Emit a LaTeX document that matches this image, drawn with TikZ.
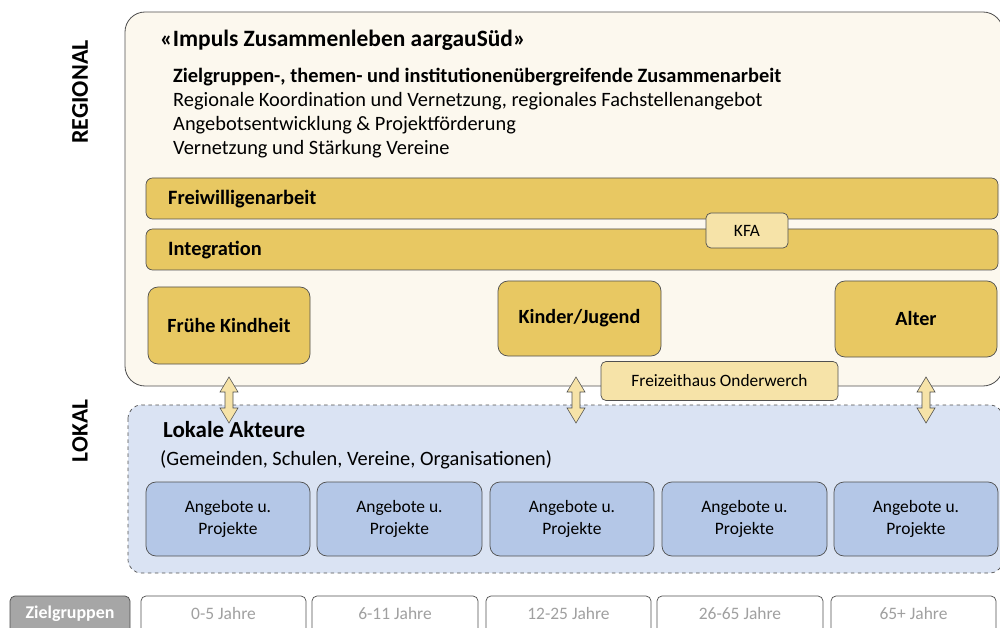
\documentclass[tikz,border=0pt]{standalone}
\usepackage{fontspec}
\setmainfont{Carlito}
\definecolor{cream}{HTML}{FCF8EE}
\definecolor{gold}{HTML}{E8C862}
\definecolor{lgold}{HTML}{F6E3A8}
\definecolor{lblue}{HTML}{DAE3F3}
\definecolor{mblue}{HTML}{B4C7E7}
\definecolor{edge}{HTML}{505050}
\definecolor{zgray}{HTML}{A6A6A6}
\definecolor{tgray}{HTML}{A0A0A0}
\begin{document}
\begin{tikzpicture}[x=0.3mm,y=-0.3mm,
  bodytxt/.style={anchor=west,inner sep=0pt,font=\fontsize{17.4}{20}\selectfont},
  boldtxt/.style={bodytxt,font=\fontsize{17.4}{20}\selectfont\bfseries},
  goldbox/.style={draw=edge,fill=gold,rounded corners=3mm,line width=0.6pt,font=\fontsize{17.2}{20}\selectfont\bfseries},
  bar/.style={draw=edge,fill=gold,rounded corners=2mm,line width=0.6pt},
  lightbox/.style={draw=edge,fill=lgold,rounded corners=1.5mm,line width=0.6pt,font=\fontsize{14.8}{17}\selectfont},
  bluebox/.style={draw=edge,fill=mblue,rounded corners=3mm,line width=0.6pt},
  agebox/.style={draw=edge,fill=white,rounded corners=1.5mm,line width=0.6pt},
  dblarrow/.style={draw=edge,fill=lgold,line width=0.5pt,line join=miter},
  sidelabel/.style={rotate=90,font=\fontsize{20.5}{24}\selectfont\bfseries,inner sep=0pt}
]
\useasboundingbox (0,0) rectangle (1000,628);
\clip (0,0) rectangle (1000,628);

% side labels
\node[sidelabel] (lregional) at (80,92) {REGIONAL};
\node[sidelabel,font=\fontsize{20}{24}\selectfont\bfseries] (llokal) at (80,431) {LOKAL};

% regional box
\draw[draw=edge,fill=cream,rounded corners=6mm,line width=0.7pt] (125,12) rectangle (1003,386);
\node[anchor=west,inner sep=0pt,font=\fontsize{20}{24}\selectfont\bfseries] (title) at (160,40) {«Impuls Zusammenleben aargauSüd»};
\node[boldtxt] (t1) at (173,77) {Zielgruppen-, themen- und institutionenübergreifende Zusammenarbeit};
\node[bodytxt] (t2) at (173,101) {Regionale Koordination und Vernetzung, regionales Fachstellenangebot};
\node[bodytxt] (t3) at (173,125) {Angebotsentwicklung \& Projektförderung};
\node[bodytxt] (t4) at (173,149) {Vernetzung und Stärkung Vereine};

% bars
\draw[bar] (146,178) rectangle (998,219);
\node[boldtxt] (freiw) at (168,199) {Freiwilligenarbeit};
\draw[bar] (146,229) rectangle (998,270);
\node[boldtxt] (integ) at (168,250) {Integration};
\node[lightbox,minimum width=82*0.3mm,minimum height=35*0.3mm] (kfa) at (747,230.5) {KFA};

% target group boxes
\node[goldbox,minimum width=162*0.3mm,minimum height=77*0.3mm] (fk) at (229,325.5) {Frühe Kindheit};
\node[goldbox,minimum width=163*0.3mm,minimum height=75*0.3mm] (kj) at (579.5,318.5) {Kinder/Jugend};
\node[goldbox,minimum width=162*0.3mm,minimum height=76*0.3mm] (alt) at (916,319) {Alter};

% lokal box
\draw[draw=edge,fill=lblue,dashed,rounded corners=4mm,line width=0.6pt] (128,405) rectangle (1003,573);
\node[anchor=west,inner sep=0pt,font=\fontsize{19.6}{23}\selectfont\bfseries] (lok) at (163,430) {Lokale Akteure};
\node[bodytxt] (lok2) at (160,460) {(Gemeinden, Schulen, Vereine, Organisationen)};

% Freizeithaus
\node[lightbox,minimum width=237*0.3mm,minimum height=39*0.3mm] (fh) at (719.5,381) {Freizeithaus Onderwerch};

% double arrows
\foreach \n/\cx in {a1/229,a2/576,a3/926}{
  \coordinate (\n) at (\cx,400);
  \draw[dblarrow] (\cx,377) -- (\cx+9,392) -- (\cx+4,392) -- (\cx+4,408) -- (\cx+9,408) -- (\cx,423)
     -- (\cx-9,408) -- (\cx-4,408) -- (\cx-4,392) -- (\cx-9,392) -- cycle;
}

% Angebote boxes
\foreach \n/\xa/\xb in {p1/146/310,p2/317/482,p3/490/654,p4/662/827,p5/834/998}{
  \draw[bluebox] (\xa,482) rectangle (\xb,556);
  \node[align=center,font=\fontsize{14.9}{19}\selectfont] (\n) at ({(\xa+\xb)/2},519) {Angebote u.\\Projekte};
}

% Zielgruppen row
\draw[draw=edge,fill=zgray,rounded corners=1.5mm,line width=0.6pt] (10,596) rectangle (130,640);
\node[font=\fontsize{15.3}{17}\selectfont\bfseries,text=white] (zg) at (70,614) {Zielgruppen};
\foreach \n/\xa/\xb/\lab in {z1/141/306/{0-5 Jahre},z2/312/478/{6-11 Jahre},z3/486/651/{12-25 Jahre},z4/657/823/{26-65 Jahre},z5/831/996/{65+ Jahre}}{
  \draw[agebox] (\xa,596) rectangle (\xb,640);
  \node[font=\fontsize{14.9}{17}\selectfont,text=tgray] (\n) at ({(\xa+\xb)/2},614) {\lab};
}
\end{tikzpicture}
\end{document}
